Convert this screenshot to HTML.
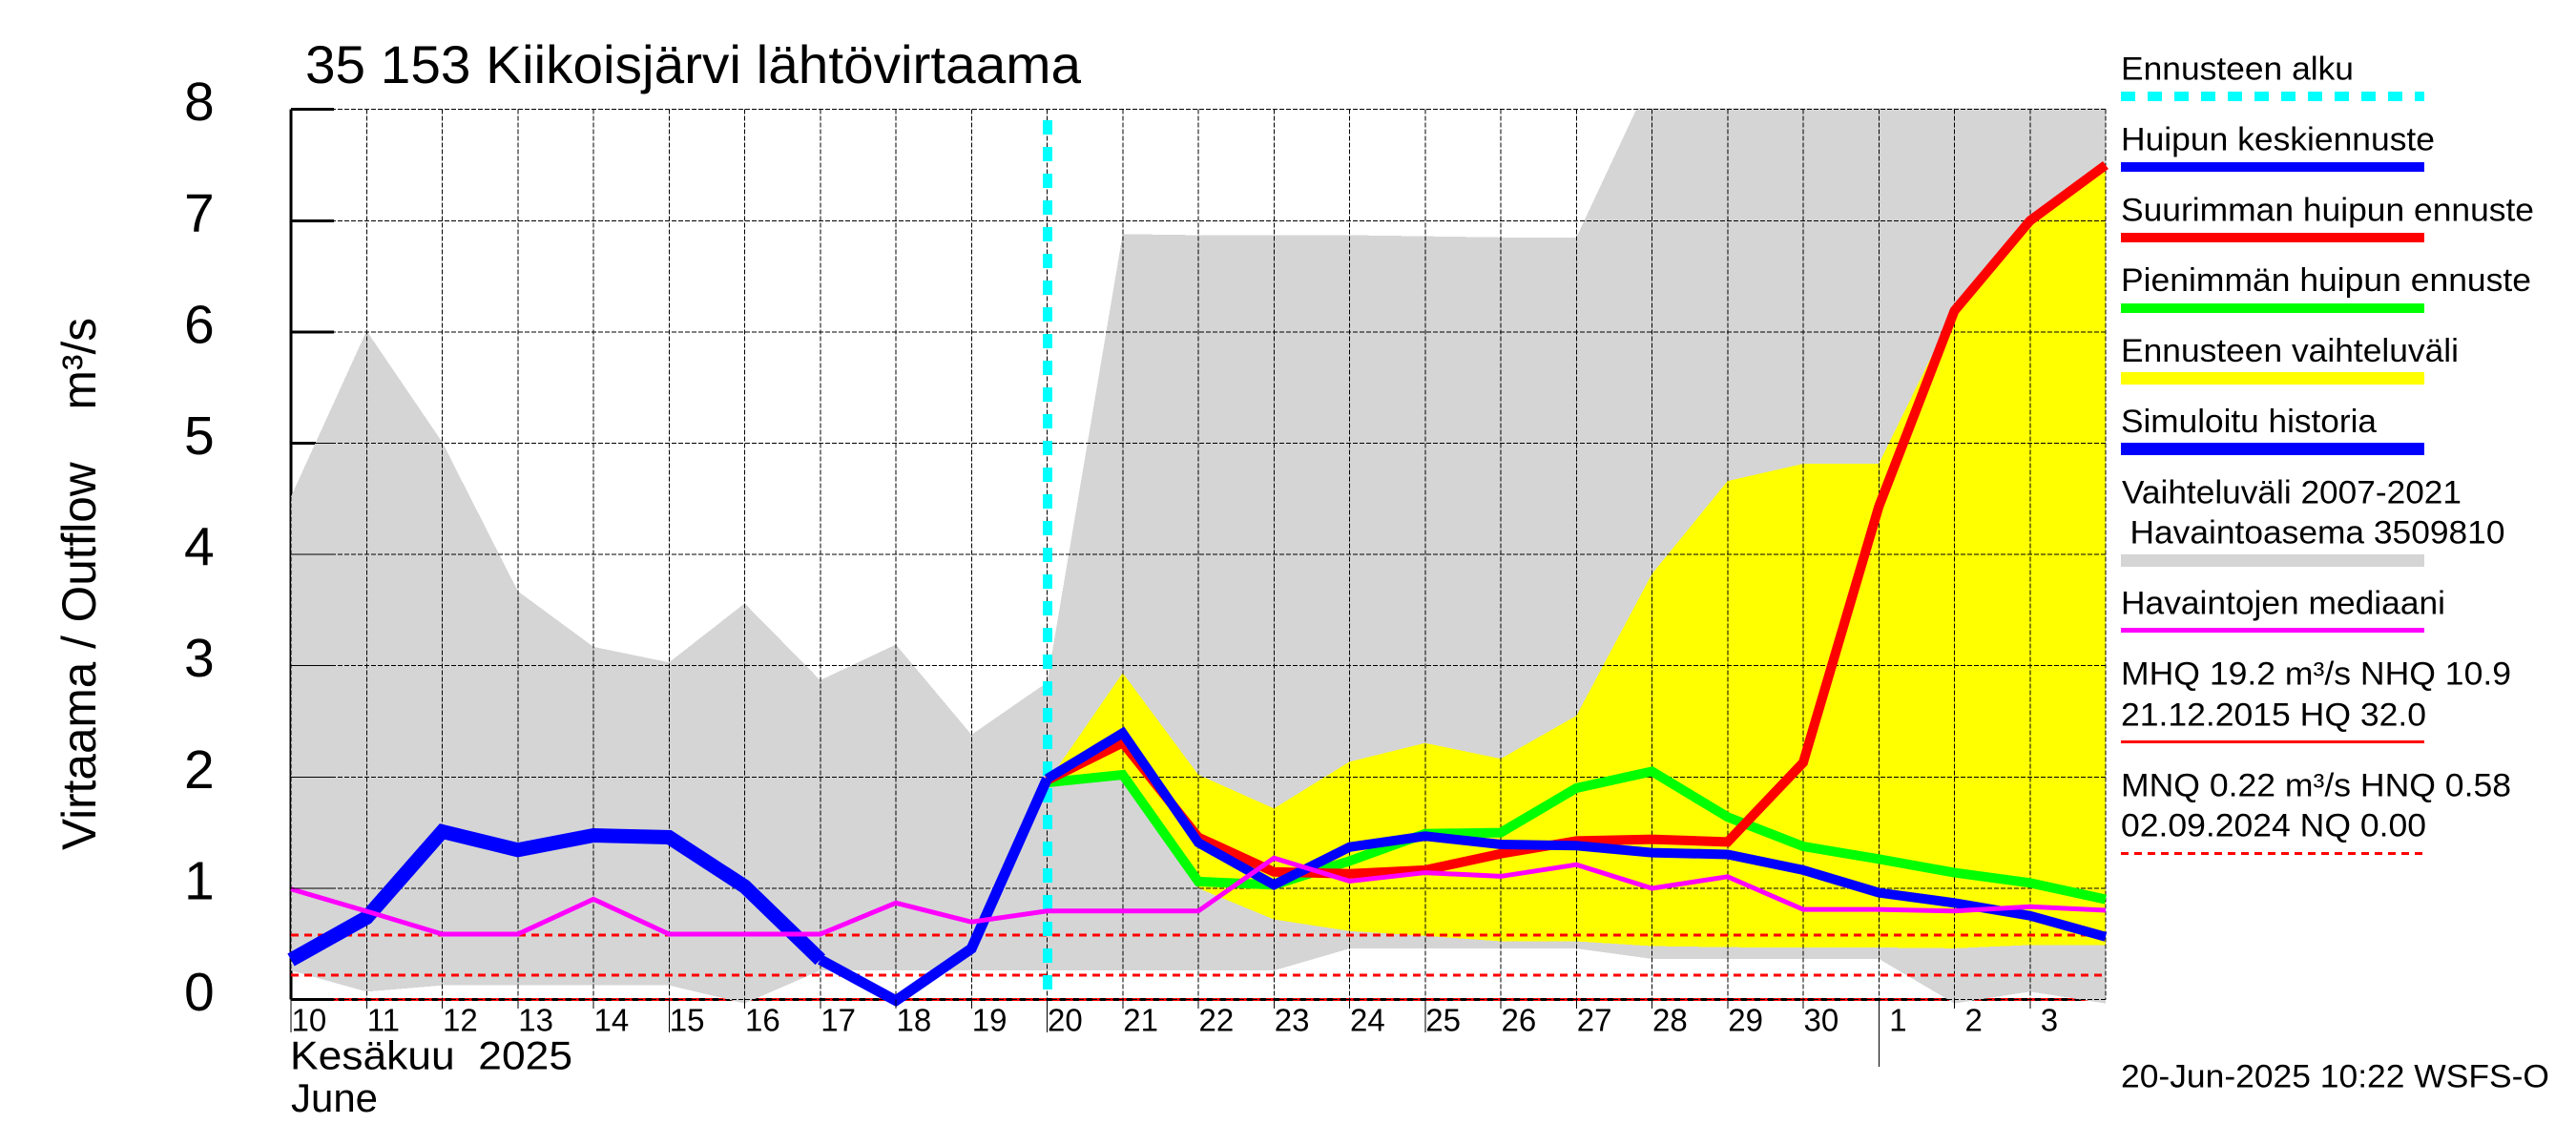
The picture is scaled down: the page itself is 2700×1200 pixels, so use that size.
<!DOCTYPE html>
<html lang="fi">
<head>
<meta charset="utf-8">
<title>35 153 Kiikoisjärvi lähtövirtaama</title>
<style>
html,body{margin:0;padding:0;background:#fff;}
svg{display:block;}
text{font-family:"Liberation Sans",Arial,sans-serif;fill:#000;}
.lg{font-size:34px;}
</style>
</head>
<body>
<svg id="chart" xmlns="http://www.w3.org/2000/svg" width="2700" height="1200" viewBox="0 0 2700 1200">
  <rect x="0" y="0" width="2700" height="1200" fill="#fff"/>
  <defs>
    <clipPath id="plot-clip"><rect x="303" y="113.5" width="1905" height="939"/></clipPath>
  </defs>
  <g id="under-layer"></g>
  <g id="band-layer" clip-path="url(#plot-clip)"></g>
  <g id="grid-layer"></g>
  <g id="line-layer"></g>
  <g id="tick-layer"></g>

  <text x="320" y="87" font-size="56" textLength="813" lengthAdjust="spacingAndGlyphs">35 153 Kiikoisjärvi lähtövirtaama</text>
  <text transform="translate(100,891) rotate(-90)" font-size="50" textLength="558" lengthAdjust="spacingAndGlyphs" xml:space="preserve" style="white-space:pre">Virtaama / Outflow    m³/s</text>
  <text x="304" y="1120.5" font-size="42" textLength="296" lengthAdjust="spacingAndGlyphs" xml:space="preserve" style="white-space:pre">Kesäkuu  2025</text>
  <text x="305" y="1165" font-size="42" textLength="91" lengthAdjust="spacingAndGlyphs">June</text>

  <g>
    <text class="lg" x="2223" y="83.3" textLength="244" lengthAdjust="spacingAndGlyphs">Ennusteen alku</text>
    <line x1="2223" x2="2541" y1="101" y2="101" stroke="#00ffff" stroke-width="10" stroke-dasharray="15 13" shape-rendering="crispEdges"/>
    <text class="lg" x="2223" y="157.3" textLength="329" lengthAdjust="spacingAndGlyphs">Huipun keskiennuste</text>
    <rect x="2223" y="170" width="318" height="10" fill="#0000ff"/>
    <text class="lg" x="2223" y="231.3" textLength="433" lengthAdjust="spacingAndGlyphs">Suurimman huipun ennuste</text>
    <rect x="2223" y="244" width="318" height="10" fill="#ff0000"/>
    <text class="lg" x="2223" y="305" textLength="430" lengthAdjust="spacingAndGlyphs">Pienimmän huipun ennuste</text>
    <rect x="2223" y="318" width="318" height="10" fill="#00ff00"/>
    <text class="lg" x="2223" y="379" textLength="354" lengthAdjust="spacingAndGlyphs">Ennusteen vaihteluväli</text>
    <rect x="2223" y="390" width="318" height="13" fill="#ffff00"/>
    <text class="lg" x="2223" y="453" textLength="268" lengthAdjust="spacingAndGlyphs">Simuloitu historia</text>
    <rect x="2223" y="464" width="318" height="13" fill="#0000ff"/>
    <text class="lg" x="2224" y="527.3" textLength="356" lengthAdjust="spacingAndGlyphs">Vaihteluväli 2007-2021</text>
    <text class="lg" x="2232.5" y="569.3" textLength="393" lengthAdjust="spacingAndGlyphs">Havaintoasema 3509810</text>
    <rect x="2223" y="581" width="318" height="13" fill="#d5d5d5"/>
    <text class="lg" x="2223" y="643.3" textLength="340" lengthAdjust="spacingAndGlyphs">Havaintojen mediaani</text>
    <rect x="2223" y="658" width="318" height="5" fill="#ff00ff"/>
    <text class="lg" x="2223" y="717.3" textLength="409" lengthAdjust="spacingAndGlyphs">MHQ 19.2 m³/s NHQ 10.9</text>
    <text class="lg" x="2223" y="760.7" textLength="320" lengthAdjust="spacingAndGlyphs">21.12.2015 HQ 32.0</text>
    <rect x="2223" y="776" width="318" height="3" fill="#ff0000"/>
    <text class="lg" x="2223" y="834.7" textLength="409" lengthAdjust="spacingAndGlyphs">MNQ 0.22 m³/s HNQ 0.58</text>
    <text class="lg" x="2223" y="876.7" textLength="320" lengthAdjust="spacingAndGlyphs">02.09.2024 NQ 0.00</text>
    <line x1="2223" x2="2541" y1="894.5" y2="894.5" stroke="#ff0000" stroke-width="3" stroke-dasharray="8 6" shape-rendering="crispEdges"/>
  </g>
  <text class="lg" x="2223" y="1139.3" textLength="449" lengthAdjust="spacingAndGlyphs">20-Jun-2025 10:22 WSFS-O</text>
</svg>
<script>
// ---- chart data (m3/s, one value per day from 10 June to 4 July) ----
const dayLabels = ['10','11','12','13','14','15','16','17','18','19','20','21','22','23','24','25','26','27','28','29','30','1','2','3'];
const yTickLabels = ['0','1','2','3','4','5','6','7','8'];
const refLevels = [0.58, 0.22];
const zeroLevel = [0];
const forecastStartDay = [10];

const rangeMax = [4.52,6.01,5.01,3.67,3.17,3.03,3.56,2.87,3.19,2.38,2.85,6.88,6.87,6.87,6.87,6.86,6.85,6.85,8.3,9,9,9,9,9,9];
const rangeMin = [0.26,0.07,0.127,0.127,0.127,0.127,-0.035,0.26,0.26,0.26,0.26,0.26,0.26,0.26,0.458,0.458,0.458,0.458,0.365,0.365,0.365,0.365,-0.035,0.07,-0.035];

const forecastMax = [1.95,2.935,2.02,1.717,2.137,2.305,2.164,2.55,3.825,4.66,4.815,4.815,6.2,6.99,7.45];
const forecastMin = [1.93,1.98,1.0,0.72,0.615,0.572,0.523,0.523,0.48,0.47,0.467,0.467,0.46,0.49,0.49];

const historySim = [0.356,0.736,1.51,1.344,1.475,1.458,1.016,0.358,-0.01,0.458,1.984];
const peakMean = [1.984,2.395,1.41,1.03,1.37,1.468,1.394,1.383,1.32,1.304,1.163,0.96,0.868,0.753,0.563];
const peakHigh = [1.97,2.308,1.458,1.147,1.13,1.163,1.31,1.425,1.44,1.416,2.13,4.43,6.19,7.0,7.5];
const peakLow = [1.95,2.02,1.06,1.03,1.245,1.49,1.5,1.9,2.05,1.64,1.376,1.262,1.14,1.048,0.9];
const medianObs = [0.993,0.793,0.587,0.587,0.902,0.587,0.587,0.587,0.868,0.697,0.795,0.795,0.795,1.271,1.064,1.14,1.107,1.212,0.999,1.104,0.809,0.809,0.795,0.834,0.802];

// ---- axis functions ----
const xOf = i => 305 + 79.25 * i;
const yOf = v => 1047.5 - 116.6 * v;
const NS = 'http://www.w3.org/2000/svg';
function make(tag, attrs, parent) {
  const el = document.createElementNS(NS, tag);
  for (const k in attrs) el.setAttribute(k, attrs[k]);
  parent.appendChild(el);
  return el;
}
const under = document.getElementById('under-layer');
const bands = document.getElementById('band-layer');
const grid = document.getElementById('grid-layer');
const lines = document.getElementById('line-layer');
const ticks = document.getElementById('tick-layer');
const lastDay = 24;

// solid axis parts that the grey band covers
let axisLine = make('line', {x1:xOf(0), x2:xOf(0), y1:yOf(8), y2:yOf(0), stroke:'#000', 'stroke-width':3, 'shape-rendering':'crispEdges'}, under);


let baseLine = make('line', {x1:xOf(0), x2:xOf(lastDay), y1:yOf(0), y2:yOf(0), stroke:'#000', 'stroke-width':3, 'shape-rendering':'crispEdges'}, under);


zeroLevel.forEach(v => {
  const l = make('line', {x1:xOf(0), x2:xOf(lastDay), y1:yOf(v), y2:yOf(v), stroke:'#ff0000', 'stroke-width':3, 'stroke-dasharray':'8 6', 'shape-rendering':'crispEdges'}, under);
  
  
});
yTickLabels.forEach(t => {
  const v = Number(t);
  const l = make('line', {x1:xOf(0), x2:xOf(0)+45, y1:yOf(v), y2:yOf(v), stroke:'#000', 'stroke-width':3, 'shape-rendering':'crispEdges'}, under);
  
  
});

// bands
function bandPoints(upper, lower, start) {
  const top = upper.map((v, i) => xOf(start + i) + ',' + yOf(v));
  const bottom = lower.map((v, i) => xOf(start + i) + ',' + yOf(v)).reverse();
  return top.concat(bottom).join(' ');
}
const greyBand = make('polygon', {points:bandPoints(rangeMax, rangeMin, 0), fill:'#d5d5d5', 'shape-rendering':'crispEdges'}, bands);


const yellowBand = make('polygon', {points:bandPoints(forecastMax, forecastMin, 10), fill:'#ffff00', 'shape-rendering':'crispEdges'}, bands);



// grid
yTickLabels.forEach(t => {
  const v = Number(t);
  const l = make('line', {x1:xOf(0), x2:xOf(lastDay), y1:yOf(v), y2:yOf(v), stroke:'#000', 'stroke-width':1, 'stroke-dasharray':'5 2', 'shape-rendering':'crispEdges'}, grid);
  
  
});
for (let i = 0; i <= lastDay; i++) {
  const l = make('line', {x1:xOf(i), x2:xOf(i), y1:yOf(8), y2:yOf(0), stroke:'#000', 'stroke-width':1, 'stroke-dasharray':'5 2', 'shape-rendering':'crispEdges'}, grid);
  
  
}
refLevels.forEach(v => {
  const l = make('line', {x1:xOf(0), x2:xOf(lastDay), y1:yOf(v), y2:yOf(v), stroke:'#ff0000', 'stroke-width':3, 'stroke-dasharray':'8 6', 'shape-rendering':'crispEdges'}, grid);
  
  
});
forecastStartDay.forEach(i => {
  const l = make('line', {x1:xOf(i)+0.5, x2:xOf(i)+0.5, y1:126, y2:yOf(0), stroke:'#00ffff', 'stroke-width':10, 'stroke-dasharray':'15 13', 'shape-rendering':'crispEdges'}, grid);
  
  
});

// series
function series(values, start, color, width, name) {
  const pts = values.map((v, i) => xOf(start + i) + ',' + yOf(v)).join(' ');
  const p = make('polyline', {points:pts, fill:'none', stroke:color, 'stroke-width':width, 'stroke-linejoin':'miter', 'stroke-miterlimit':3}, lines);
  
  
}
const historySplit = 7;
series(peakLow, 10, '#00ff00', 10, 'lowest-peak-forecast-line');
series(peakHigh, 10, '#ff0000', 10, 'highest-peak-forecast-line');
series(historySim.slice(0, historySplit + 1), 0, '#0000ff', 15, 'simulated-history-line-early');
series(historySim.slice(historySplit), historySplit, '#0000ff', 11, 'simulated-history-line-late');
series(peakMean, 10, '#0000ff', 10, 'mean-peak-forecast-line');
series(medianObs, 0, '#ff00ff', 5, 'observed-median-line');

// ticks and tick labels
yTickLabels.forEach(t => {
  const v = Number(t);
  const l = make('line', {x1:xOf(0), x2:xOf(0)+45, y1:yOf(v), y2:yOf(v), stroke:'#000', 'stroke-width':1, 'shape-rendering':'crispEdges'}, ticks);
  
  
  const tx = make('text', {x:193, y:yOf(v)+11.5, 'font-size':57}, ticks);
  
  
  tx.textContent = t;
});
dayLabels.forEach((t, i) => {
  const isMonthStart = t === '1';
  const isLong = i <= 15 && i % 5 === 0;
  const end = isMonthStart ? 1118 : (isLong ? 1082 : 1057);
  const l = make('line', {x1:xOf(i), x2:xOf(i), y1:yOf(0), y2:end, stroke:'#000', 'stroke-width':1, 'shape-rendering':'crispEdges'}, ticks);
  
  
  const tx = make('text', {x:xOf(i) + (t.length === 1 ? 11 : 0.5), y:1080.7, 'font-size':33}, ticks);
  
  
  tx.textContent = t;
});
</script>
</body>
</html>
